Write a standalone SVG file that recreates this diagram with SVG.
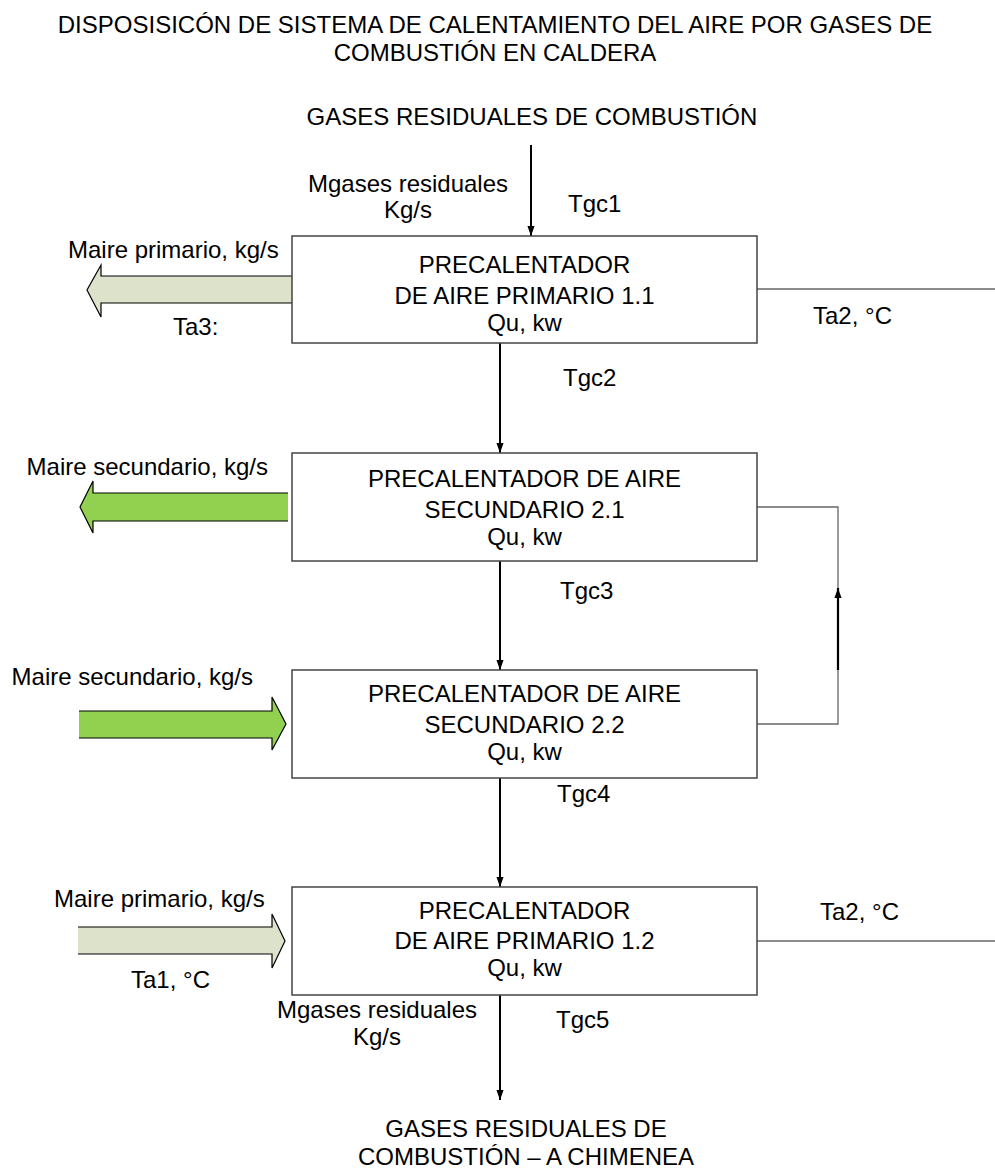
<svg xmlns="http://www.w3.org/2000/svg" width="995" height="1173" viewBox="0 0 995 1173">
<style>
text{font-family:"Liberation Sans",Arial,sans-serif;font-size:24px;fill:#000}
.c{text-anchor:middle}
.e{text-anchor:end}
.box{fill:#fff;stroke:#444;stroke-width:1.5}
.thin{fill:none;stroke:#666;stroke-width:1.3}
.flow{fill:none;stroke:#000;stroke-width:2}
.pa{fill:#DDE2CB;stroke:none}
.sa{fill:#92D050;stroke:none}
.ol{fill:none;stroke:#000;stroke-width:1.2}
</style>
<defs>
<marker id="ah" markerUnits="userSpaceOnUse" markerWidth="10" markerHeight="16" refX="14" refY="5" viewBox="0 0 14 10" orient="auto">
<path d="M0,0 L14,5 L0,10 Z" fill="#000"/>
</marker>
</defs>
<g id="title">
<text class="c" x="495" y="33">DISPOSISICÓN DE SISTEMA DE CALENTAMIENTO DEL AIRE POR GASES DE</text>
<text class="c" x="495" y="61">COMBUSTIÓN EN CALDERA</text>
</g>
<g id="in-gases">
<text class="c" x="532" y="125">GASES RESIDUALES DE COMBUSTIÓN</text>
<text class="c" x="408" y="192">Mgases residuales</text>
<text class="c" x="408" y="218">Kg/s</text>
<text x="568" y="212">Tgc1</text>
</g>
<g id="connectors">
<line class="flow" x1="531" y1="145" x2="531" y2="236" marker-end="url(#ah)"/>
<line class="flow" x1="500" y1="343" x2="500" y2="453" marker-end="url(#ah)"/>
<line class="flow" x1="500" y1="561" x2="500" y2="670" marker-end="url(#ah)"/>
<line class="flow" x1="500" y1="778" x2="500" y2="887" marker-end="url(#ah)"/>
<line class="flow" x1="500" y1="995" x2="500" y2="1100" marker-end="url(#ah)"/>
<line class="thin" x1="757" y1="289" x2="995" y2="289"/>
<polyline class="thin" points="757,507 838,507 838,724 757,724"/>
<line x1="838" y1="670" x2="838" y2="588" stroke="#000" stroke-width="2.2" marker-end="url(#ah)"/>
<line class="thin" x1="757" y1="941" x2="995" y2="941"/>
<path class="pa" d="M292,276 L101,276 L101,265 L87,290 L101,317 L101,303 L292,303 Z"/>
<polyline class="ol" points="292,276 101,276 101,265 87,290 101,317 101,303 292,303"/>
<path class="sa" d="M288,493 L93,493 L93,481 L80,507 L93,533 L93,521 L288,521 Z"/>
<polyline class="ol" points="288,493 93,493 93,481 80,507 93,533 93,521 288,521"/>
<path class="sa" d="M79,711 L272,711 L272,697 L286,724 L272,750 L272,738 L79,738 Z"/>
<polyline class="ol" points="79,711 272,711 272,697 286,724 272,750 272,738 79,738"/>
<path class="pa" d="M78,927 L272,927 L272,914 L285,941 L272,968 L272,954 L78,954 Z"/>
<polyline class="ol" points="78,927 272,927 272,914 285,941 272,968 272,954 78,954"/>
</g>
<g id="box1">
<rect class="box" x="292" y="236" width="465" height="107"/>
<text class="c" x="524.5" y="273">PRECALENTADOR</text>
<text class="c" x="524.5" y="304">DE AIRE PRIMARIO 1.1</text>
<text class="c" x="524.5" y="331">Qu, kw</text>
</g>
<g id="box1-labels">
<text x="68" y="258">Maire primario, kg/s</text>
<text x="173" y="335">Ta3:</text>
<text x="813" y="324">Ta2, °C</text>
<text x="563" y="386">Tgc2</text>
</g>
<g id="box2">
<rect class="box" x="292" y="453" width="465" height="108"/>
<text class="c" x="524.5" y="487">PRECALENTADOR DE AIRE</text>
<text class="c" x="524.5" y="518">SECUNDARIO 2.1</text>
<text class="c" x="524.5" y="545">Qu, kw</text>
</g>
<g id="box2-labels">
<text class="e" x="268" y="475">Maire secundario, kg/s</text>
<text x="560" y="599">Tgc3</text>
</g>
<g id="box3">
<rect class="box" x="292" y="670" width="465" height="108"/>
<text class="c" x="524.5" y="702">PRECALENTADOR DE AIRE</text>
<text class="c" x="524.5" y="733">SECUNDARIO 2.2</text>
<text class="c" x="524.5" y="760">Qu, kw</text>
</g>
<g id="box3-labels">
<text class="e" x="253" y="685">Maire secundario, kg/s</text>
<text x="557" y="802">Tgc4</text>
</g>
<g id="box4">
<rect class="box" x="292" y="887" width="465" height="108"/>
<text class="c" x="524.5" y="919">PRECALENTADOR</text>
<text class="c" x="524.5" y="949">DE AIRE PRIMARIO 1.2</text>
<text class="c" x="524.5" y="976">Qu, kw</text>
</g>
<g id="box4-labels">
<text x="54" y="907">Maire primario, kg/s</text>
<text x="131" y="988">Ta1, °C</text>
<text x="820" y="920">Ta2, °C</text>
<text class="c" x="377" y="1018">Mgases residuales</text>
<text class="c" x="377" y="1045">Kg/s</text>
<text x="556" y="1028">Tgc5</text>
</g>
<g id="out-gases">
<text class="c" x="526" y="1137">GASES RESIDUALES DE</text>
<text class="c" x="526" y="1165">COMBUSTIÓN – A CHIMENEA</text>
</g>
</svg>
